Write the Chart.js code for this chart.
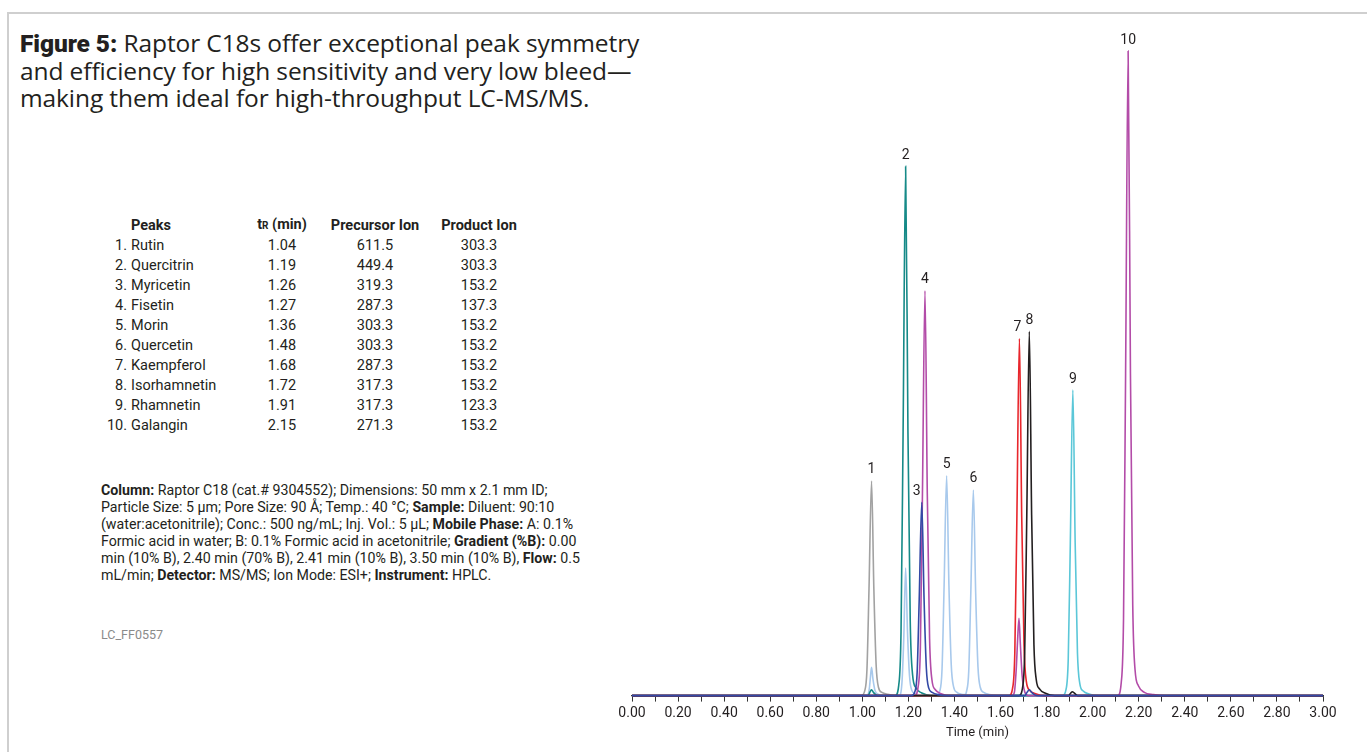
<!DOCTYPE html>
<html>
<head>
<meta charset="utf-8">
<title>Figure 5 - Raptor C18 flavonoids</title>
<script src="https://cdn.jsdelivr.net/npm/chart.js@4.4.1/dist/chart.umd.min.js"></script>
<style>
  html, body { margin: 0; padding: 0; background: #fff; }
  body { width: 1367px; height: 752px; position: relative; overflow: hidden; font-family: Roboto, "Liberation Sans", sans-serif; color: #231f20; }
  .frame { position: absolute; left: 7px; top: 12px; width: 1420px; height: 800px; border: 2px solid #cfcfcf; box-sizing: border-box; }
  .title { position: absolute; left: 20px; top: 29px; font-family: "Open Sans", sans-serif; font-size: 24.5px; line-height: 27px; letter-spacing: -0.1px; color: #231f20; white-space: nowrap; }
  .title b { font-family: Roboto, sans-serif; font-weight: 900; }
  table.peaks { position: absolute; left: 96px; top: 215px; border-collapse: collapse; font-size: 14.5px; }
  table.peaks td, table.peaks th { padding: 0; height: 20px; line-height: 20px; white-space: nowrap; }
  table.peaks th { font-weight: 700; }
  .num { width: 31px; text-align: right; padding-right: 4px !important; }
  .name { width: 109px; text-align: left; }
  .c3 { width: 84px; text-align: center; }
  .c4 { width: 102px; text-align: center; }
  .c5 { width: 106px; text-align: center; }
  .notes { position: absolute; left: 101px; top: 482px; font-size: 14.2px; line-height: 17px; white-space: nowrap; }
  .code { position: absolute; left: 101px; top: 627px; font-size: 12.5px; color: #8a8a8a; }
  .plot { position: absolute; left: 600px; top: 0; width: 767px; height: 752px; }
</style>
</head>
<body>
<div class="frame"></div>
<div class="title"><b>Figure 5:</b> Raptor C18s offer exceptional peak symmetry<br>and efficiency for high sensitivity and very low bleed—<br>making them ideal for high-throughput LC-MS/MS.</div>

<table class="peaks" id="peakTable">
  <thead>
    <tr><th class="num"></th><th class="name">Peaks</th><th class="c3">t<span style="font-size:10px">R</span> (min)</th><th class="c4">Precursor Ion</th><th class="c5">Product Ion</th></tr>
  </thead>
  <tbody></tbody>
</table>

<div class="notes"><b>Column:</b> Raptor C18 (cat.# 9304552); Dimensions: 50 mm x 2.1 mm ID;<br>Particle Size: 5 µm; Pore Size: 90 Å; Temp.: 40 °C; <b>Sample:</b> Diluent: 90:10<br>(water:acetonitrile); Conc.: 500 ng/mL; Inj. Vol.: 5 µL; <b>Mobile Phase:</b> A: 0.1%<br>Formic acid in water; B: 0.1% Formic acid in acetonitrile; <b>Gradient (%B):</b> 0.00<br>min (10% B), 2.40 min (70% B), 2.41 min (10% B), 3.50 min (10% B), <b>Flow:</b> 0.5<br>mL/min; <b>Detector:</b> MS/MS; Ion Mode: ESI+; <b>Instrument:</b> HPLC.</div>
<div class="code">LC_FF0557</div>

<div class="plot"><canvas id="chromChart" width="767" height="752"></canvas></div>

<script>
// Peak table
const compounds = ['Rutin', 'Quercitrin', 'Myricetin', 'Fisetin', 'Morin', 'Quercetin', 'Kaempferol', 'Isorhamnetin', 'Rhamnetin', 'Galangin'];
const retentionTimes = ['1.04', '1.19', '1.26', '1.27', '1.36', '1.48', '1.68', '1.72', '1.91', '2.15'];
const precursorIons = ['611.5', '449.4', '319.3', '287.3', '303.3', '303.3', '287.3', '317.3', '317.3', '271.3'];
const productIons = ['303.3', '303.3', '153.2', '137.3', '153.2', '153.2', '153.2', '153.2', '123.3', '153.2'];

// Peak labels on the chromatogram (apex time, apex height as % of peak 10)
const peakNumbers = ['1', '2', '3', '4', '5', '6', '7', '8', '9', '10'];
const peakTimes = [1.040, 1.188, 1.258, 1.272, 1.366, 1.482, 1.682, 1.725, 1.914, 2.154];
const peakHeights = [33.3, 82.1, 30.0, 62.8, 34.1, 31.9, 55.4, 56.5, 47.4, 100];

// Traces (time in min, signal as % of peak 10)
const blueTime = [0, 1.213, 1.228, 1.238, 1.247, 1.258, 1.268, 1.278, 1.288, 1.303, 1.328, 1.368, 1.705, 1.715, 1.725, 1.735, 1.750, 1.770, 3.00];
const blueSignal = [0, 0, 0.6, 3.6, 15.0, 30.0, 15.0, 4.2, 1.2, 0.5, 0.15, 0, 0, 0.5, 0.9, 0.5, 0.1, 0, 0];

const grayTime = [0, 0.995, 1.010, 1.020, 1.029, 1.040, 1.050, 1.060, 1.070, 1.085, 1.110, 1.150, 3.00];
const graySignal = [0, 0, 0.7, 4.0, 16.6, 33.3, 16.6, 4.7, 1.3, 0.5, 0.2, 0, 0];

const tealTime = [0, 1.025, 1.035, 1.040, 1.048, 1.060, 1.075, 1.143, 1.158, 1.168, 1.177, 1.188, 1.198, 1.208, 1.218, 1.233, 1.258, 1.298, 3.00];
const tealSignal = [0, 0, 0.7, 0.9, 0.5, 0.1, 0, 0, 1.6, 9.9, 41.0, 82.1, 41.0, 11.5, 3.3, 1.2, 0.4, 0, 0];

const magentaTime = [0, 1.227, 1.242, 1.252, 1.261, 1.272, 1.282, 1.292, 1.302, 1.317, 1.342, 1.382, 1.650, 1.660, 1.668, 1.674, 1.680, 1.686, 1.694, 1.705, 1.720, 2.109, 2.124, 2.134, 2.143, 2.154, 2.164, 2.174, 2.184, 2.199, 2.224, 2.264, 2.310, 3.00];
const magentaSignal = [0, 0, 1.3, 7.5, 31.4, 62.8, 31.4, 8.8, 2.5, 0.9, 0.3, 0, 0, 0.5, 4.0, 8.5, 12.0, 8.0, 3.0, 0.6, 0, 0, 2.0, 12.0, 50.0, 100, 50.0, 14.0, 4.0, 1.5, 0.5, 0.15, 0, 0];

const lightBlueTime = [0, 1.020, 1.030, 1.035, 1.040, 1.046, 1.055, 1.070, 1.090, 1.160, 1.172, 1.180, 1.188, 1.196, 1.205, 1.215, 1.235, 1.260, 1.321, 1.336, 1.346, 1.355, 1.366, 1.376, 1.386, 1.396, 1.411, 1.430, 1.445, 1.452, 1.462, 1.471, 1.482, 1.492, 1.502, 1.512, 1.527, 1.552, 1.592, 3.00];
const lightBlueSignal = [0, 0, 1.0, 2.8, 4.4, 2.6, 0.8, 0.2, 0, 0, 2.0, 9.0, 19.8, 10.0, 3.0, 0.8, 0.2, 0, 0, 0.7, 4.1, 17.0, 34.1, 17.0, 4.8, 1.4, 0.5, 0.2, 0.15, 0.6, 3.8, 16.0, 31.9, 16.0, 4.5, 1.3, 0.5, 0.16, 0, 0];

const redTime = [0, 1.637, 1.652, 1.662, 1.671, 1.682, 1.692, 1.702, 1.712, 1.727, 1.752, 1.792, 3.00];
const redSignal = [0, 0, 1.1, 6.6, 27.7, 55.4, 27.7, 7.8, 2.2, 0.8, 0.3, 0, 0];

const blackTime = [0, 1.680, 1.695, 1.705, 1.714, 1.725, 1.735, 1.745, 1.755, 1.770, 1.795, 1.835, 1.895, 1.905, 1.912, 1.920, 1.935, 3.00];
const blackSignal = [0, 0, 1.1, 6.8, 28.0, 56.5, 28.0, 7.9, 2.5, 1.0, 0.35, 0, 0, 0.4, 0.6, 0.4, 0, 0];

const cyanTime = [0, 1.869, 1.884, 1.894, 1.903, 1.914, 1.924, 1.934, 1.944, 1.959, 1.984, 2.024, 3.00];
const cyanSignal = [0, 0, 0.9, 5.7, 23.7, 47.4, 23.7, 6.6, 1.9, 0.7, 0.25, 0, 0];

// x axis ticks
const tickStep = 0.1;
const timeMin = 0;
const timeMax = 3.0;

// fill the table
const tbody = document.querySelector('#peakTable tbody');
compounds.forEach(function(name, i) {
    const tr = document.createElement('tr');
    tr.innerHTML = '<td class="num">' + (i + 1) + '.</td><td class="name">' + name + '</td><td class="c3">' +
        retentionTimes[i] + '</td><td class="c4">' + precursorIons[i] + '</td><td class="c5">' + productIons[i] + '</td>';
    tbody.appendChild(tr);
});

function toPoints(xs, ys) {
    return xs.map((x, i) => ({ x: x, y: ys[i] }));
}

function trace(xs, ys, color) {
    return {
        data: toPoints(xs, ys),
        borderColor: color,
        borderWidth: 1.6,
        pointRadius: 0,
        cubicInterpolationMode: 'monotone',
        fill: false,
        clip: false
    };
}

// first dataset is drawn on top, so the blue one gives the baseline its colour
const datasets = [
    trace(blueTime, blueSignal, '#3349a6'),
    trace(blackTime, blackSignal, '#231f20'),
    trace(redTime, redSignal, '#e8262c'),
    trace(magentaTime, magentaSignal, '#b34ca8'),
    trace(tealTime, tealSignal, '#168a88'),
    trace(grayTime, graySignal, '#a2a2a2'),
    trace(lightBlueTime, lightBlueSignal, '#a8c9ec'),
    trace(cyanTime, cyanSignal, '#5bc7d8')
];

// numbers above the peaks
const labelNudge = { '3': -5, '7': -2 };
const peakLabelPlugin = {
    id: 'peakLabels',
    afterDatasetsDraw(chart) {
        const ctx = chart.ctx;
        const xs = chart.scales.x;
        const ys = chart.scales.y;
        ctx.save();
        ctx.font = '14px Roboto, sans-serif';
        ctx.fillStyle = '#231f20';
        ctx.textAlign = 'center';
        ctx.textBaseline = 'bottom';
        peakNumbers.forEach(function(lbl, i) {
            const px = xs.getPixelForValue(peakTimes[i]) + (labelNudge[lbl] || 0);
            const py = ys.getPixelForValue(peakHeights[i]) - 4;
            ctx.fillText(lbl, px, py);
        });
        ctx.restore();
    }
};

const ctx = document.getElementById('chromChart').getContext('2d');
const chromChart = new Chart(ctx, {
    type: 'line',
    data: { datasets: datasets },
    plugins: [peakLabelPlugin],
    options: {
        responsive: false,
        animation: false,
        layout: { padding: { left: 32, right: 44, top: 51, bottom: 7 } },
        plugins: {
            legend: { display: false },
            tooltip: { enabled: false }
        },
        scales: {
            x: {
                type: 'linear',
                min: timeMin,
                max: timeMax,
                ticks: {
                    stepSize: tickStep,
                    autoSkip: false,
                    maxRotation: 0,
                    color: '#231f20',
                    font: { family: 'Roboto', size: 14 },
                    padding: 3,
                    callback: function(v) {
                        return Math.round(v * 10) % 2 === 0 ? v.toFixed(2) : '';
                    }
                },
                grid: {
                    drawOnChartArea: false,
                    drawTicks: true,
                    tickLength: 6,
                    tickColor: '#333'
                },
                border: { display: true, color: '#333', width: 1.2 },
                title: {
                    display: true,
                    text: 'Time (min)',
                    color: '#231f20',
                    font: { family: 'Roboto', size: 13 },
                    padding: { top: 1, bottom: 4 }
                }
            },
            y: {
                display: false,
                min: 0,
                max: 100
            }
        }
    }
});
</script>
</body>
</html>
